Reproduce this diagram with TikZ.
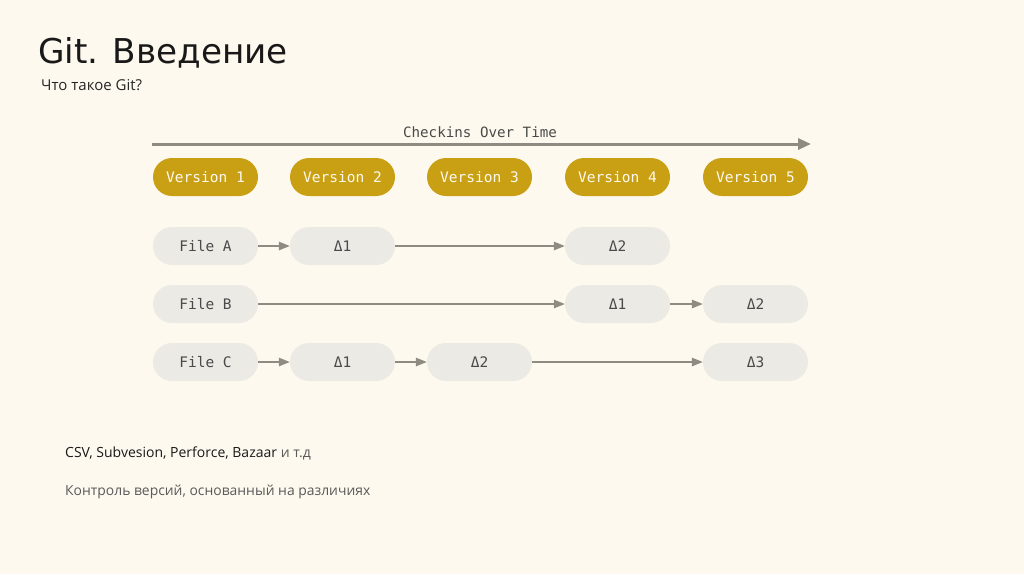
\documentclass[tikz,border=0pt]{standalone}
\usepackage{fontspec}
\setmainfont{Open Sans}
\newfontfamily\titlefont{DejaVu Sans}
\newfontfamily\monofont{DejaVu Sans Mono}
\usetikzlibrary{arrows.meta}
\definecolor{bg}{HTML}{FEF9EE}
\definecolor{gold}{HTML}{C9A014}
\definecolor{pill}{HTML}{ECEAE4}
\definecolor{arr}{HTML}{8F8B83}
\definecolor{txtgray}{HTML}{5A5A5A}
\definecolor{monotxt}{HTML}{4A4A4A}
\tikzset{
  vpill/.style={rounded corners=19pt, fill=gold, minimum width=105pt, minimum height=38pt, inner sep=0pt, text=bg, font=\monofont\fontsize{14.5}{15}\selectfont},
  fpill/.style={rounded corners=19pt, fill=pill, minimum width=105pt, minimum height=38pt, inner sep=0pt, text=monotxt, font=\monofont\fontsize{14.5}{15}\selectfont},
  conn/.style={draw=arr, line width=1.3pt, -{Triangle[length=11pt,width=8.5pt]}},
}
\begin{document}
\begin{tikzpicture}[x=1pt,y=-1pt]
\fill[bg] (0,0) rectangle (1024,574);
\useasboundingbox (0,0) rectangle (1024,574);
\node[anchor=base west, inner sep=0pt, text=black!90, font=\titlefont\fontsize{34.2}{37}\selectfont] (title) at (38,63) {Git. Введение};
\node[anchor=base west, inner sep=0pt, text=black!85, font=\fontsize{15}{18}\selectfont] (sub) at (41,90) {Что такое Git?};
% time axis
\coordinate (ts) at (152,144);
\coordinate (te) at (811,144);
\draw[draw=arr, line width=3pt, -{Triangle[length=13pt,width=11pt]}] (ts) -- (te);
\node[anchor=base, inner sep=0pt, text=monotxt, font=\monofont\fontsize{14.2}{15}\selectfont] (axislbl) at (480,137) {Checkins Over Time};
% versions
\node[vpill] (v1) at (205.5,177) {Version 1};
\node[vpill] (v2) at (342.5,177) {Version 2};
\node[vpill] (v3) at (479.5,177) {Version 3};
\node[vpill] (v4) at (617.5,177) {Version 4};
\node[vpill] (v5) at (755.5,177) {Version 5};
% file A
\node[fpill] (fa) at (205.5,246) {File A};
\node[fpill] (a1) at (342.5,246) {Δ1};
\node[fpill] (a2) at (617.5,246) {Δ2};
% file B
\node[fpill] (fb) at (205.5,304) {File B};
\node[fpill] (b1) at (617.5,304) {Δ1};
\node[fpill] (b2) at (755.5,304) {Δ2};
% file C
\node[fpill] (fc) at (205.5,362) {File C};
\node[fpill] (c1) at (342.5,362) {Δ1};
\node[fpill] (c2) at (479.5,362) {Δ2};
\node[fpill] (c3) at (755.5,362) {Δ3};
\draw[conn] (fa) -- (a1);
\draw[conn] (a1) -- (a2);
\draw[conn] (fb) -- (b1);
\draw[conn] (b1) -- (b2);
\draw[conn] (fc) -- (c1);
\draw[conn] (c1) -- (c2);
\draw[conn] (c2) -- (c3);
% bottom text
\node[anchor=base west, inner sep=0pt, font=\fontsize{14}{17}\selectfont] (l1) at (65,457) {\color{black!90}CSV, Subvesion, Perforce, Bazaar \color{txtgray}и т.д};
\node[anchor=base west, inner sep=0pt, text=txtgray, font=\fontsize{13.9}{17}\selectfont] (l2) at (65,495) {Контроль версий, основанный на различиях};
\end{tikzpicture}
\end{document}
